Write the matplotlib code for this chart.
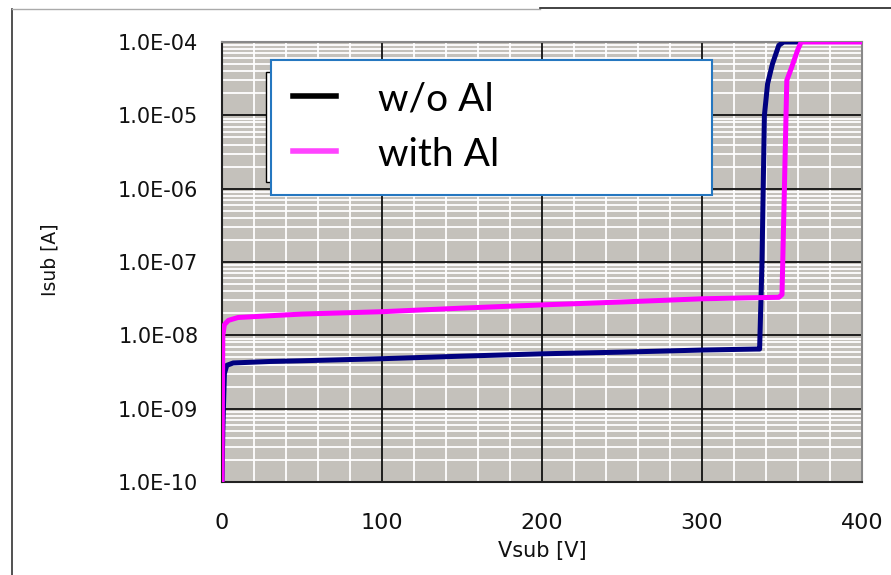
import math
import matplotlib.pyplot as plt
from matplotlib.ticker import FixedLocator, FuncFormatter, MultipleLocator
from matplotlib.patches import Rectangle
from matplotlib.lines import Line2D

# w/o Al (navy)
v_noal = [0, 0.5, 1.5, 3, 7, 30, 50, 100, 150, 200, 250, 300, 334, 336, 337.5, 339, 341, 344, 348, 351, 359]
i_noal = [1e-10, 5e-10, 3.0e-9, 3.9e-9, 4.2e-9, 4.4e-9, 4.5e-9, 4.8e-9, 5.2e-9, 5.6e-9, 5.9e-9, 6.3e-9,
          6.5e-9, 6.5e-9, 1e-7, 1e-5, 2.7e-5, 5e-5, 9e-5, 1e-4, 1e-4]
# with Al (magenta)
v_al = [0, 0.5, 1.5, 4, 10, 30, 50, 100, 150, 200, 250, 300, 330, 348, 350, 351.5, 353, 356, 360, 362, 400]
i_al = [1e-10, 1.0e-8, 1.4e-8, 1.6e-8, 1.75e-8, 1.85e-8, 1.95e-8, 2.1e-8, 2.35e-8, 2.6e-8, 2.85e-8, 3.15e-8,
        3.25e-8, 3.3e-8, 3.6e-8, 1e-6, 3.0e-5, 4.5e-5, 8e-5, 1e-4, 1e-4]

xticks = [0, 100, 200, 300, 400]
yticks = [1e-10, 1e-9, 1e-8, 1e-7, 1e-6, 1e-5, 1e-4]
legend_labels = ['w/o Al', 'with Al']

fig = plt.figure(figsize=(8.91, 5.75), dpi=100)
ax = fig.add_axes([222 / 891, 1 - 482 / 575, 640 / 891, 440 / 575])
ax.set_facecolor('#c4c1bb')

ax.plot(v_noal, i_noal, color='#000080', lw=3.6, solid_joinstyle='round', zorder=4)
ax.plot(v_al, i_al, color='#ff00ff', lw=3.6, solid_joinstyle='round', zorder=4)

ax.set_yscale('log')
ax.set_xlim(0, 400)
ax.set_ylim(1e-10, 1e-4)
ax.xaxis.set_major_locator(FixedLocator(xticks))
ax.xaxis.set_minor_locator(MultipleLocator(20))
ax.yaxis.set_major_locator(FixedLocator(yticks))
ax.yaxis.set_major_formatter(FuncFormatter(lambda y, p: '1.0E-%02d' % (-round(math.log10(y)))))
ax.grid(which='minor', color='white', lw=1.3)
ax.set_axisbelow(True)
# major grid on top of the white minor grid
for x in xticks:
    ax.axvline(x, color='#111111', lw=1.3, zorder=2)
for y in yticks:
    ax.axhline(y, color='#111111', lw=1.3, zorder=2)
ax.tick_params(which='both', length=0)
ax.tick_params(axis='y', pad=17, labelsize=15)
ax.tick_params(axis='x', pad=22, labelsize=16)
for lab in ax.get_xticklabels() + ax.get_yticklabels():
    lab.set_family('DejaVu Sans')
    lab.set_color('#111111')

for s in ['left', 'bottom']:
    ax.spines[s].set_color('#222222')
    ax.spines[s].set_linewidth(1.5)
for s in ['top', 'right']:
    ax.spines[s].set_color('#888888')
    ax.spines[s].set_linewidth(1.5)

ax.set_xlabel('Vsub [V]', family='DejaVu Sans', fontsize=15, labelpad=6, color='#111111')
fig.text(50 / 891, 1 - 260 / 575, 'Isub [A]', rotation=90, family='DejaVu Sans',
         fontsize=13.5, ha='center', va='center', color='#111111')

# ghost box behind legend
fig.patches.append(Rectangle((266 / 891, 1 - 182 / 575), 60 / 891, 110 / 575, transform=fig.transFigure,
                             facecolor='white', edgecolor='black', lw=1, zorder=5))
# legend box
fig.patches.append(Rectangle((271 / 891, 1 - 195 / 575), 441 / 891, 135 / 575, transform=fig.transFigure,
                             facecolor='white', edgecolor='#2577c0', lw=1.5, zorder=6))
fig.lines.append(Line2D([293 / 891, 336 / 891], [1 - 96 / 575] * 2, transform=fig.transFigure,
                        color='black', lw=4, zorder=7))
fig.lines.append(Line2D([293 / 891, 336 / 891], [1 - 151 / 575] * 2, transform=fig.transFigure,
                        color='#ff44ff', lw=4, zorder=7))
fig.text(378 / 891, 1 - 100 / 575, legend_labels[0], family='Lato', fontsize=28, va='center', zorder=8)
fig.text(378 / 891, 1 - 155 / 575, legend_labels[1], family='Lato', fontsize=28, va='center', zorder=8)

# slide frame lines
fig.lines.append(Line2D([12 / 891, 12 / 891], [0, 1 - 9 / 575], transform=fig.transFigure, color='#333333', lw=1.2))
fig.lines.append(Line2D([12 / 891, 540 / 891], [1 - 9 / 575] * 2, transform=fig.transFigure, color='#aaaaaa', lw=1))
fig.lines.append(Line2D([540 / 891, 1], [1 - 8 / 575] * 2, transform=fig.transFigure, color='#222222', lw=1.2))

fig.savefig('out.png', dpi=100)
